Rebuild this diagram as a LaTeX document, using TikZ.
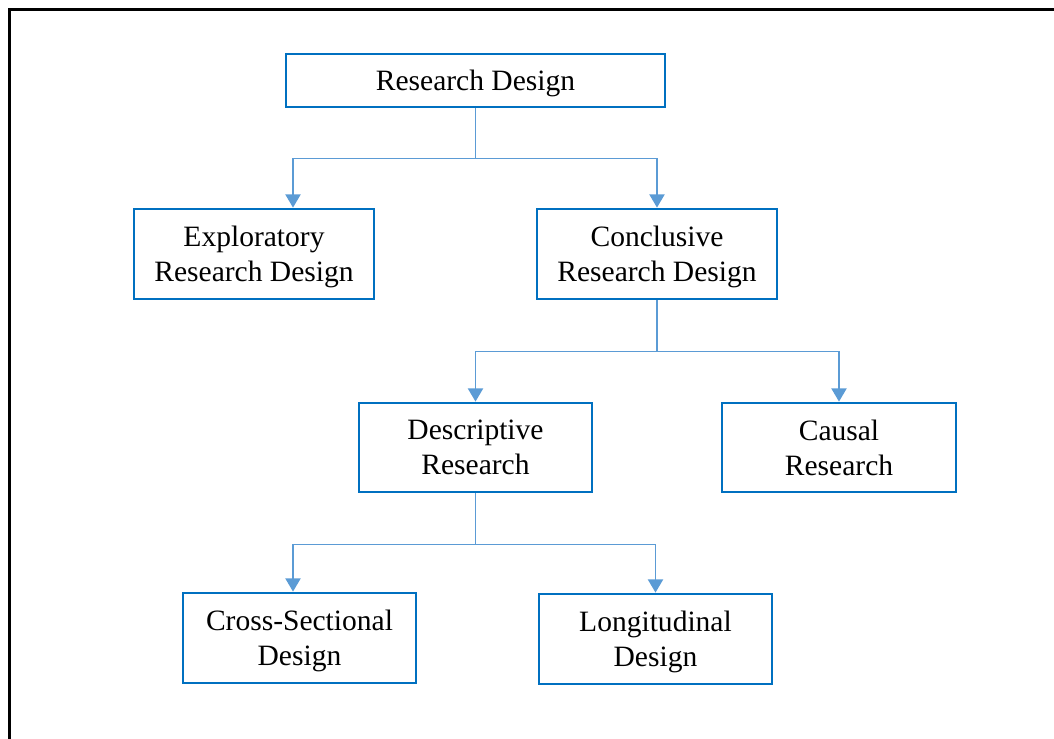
\documentclass[tikz,border=0pt]{standalone}
\usepackage{fontspec}
\setmainfont{Liberation Serif}
\usetikzlibrary{arrows.meta,calc}
\definecolor{boxblue}{HTML}{0070C0}
\definecolor{linkblue}{HTML}{5B9BD5}

\begin{document}
\begin{tikzpicture}[x=0.025cm,y=-0.025cm,
    box/.style={draw=boxblue,line width=2pt,fill=white,align=center,
        font=\fontsize{21}{25}\selectfont,inner sep=0pt,text depth=0pt},
    link/.style={draw=linkblue,line width=1pt},
    arr/.style={link,-{Triangle[width=0.38cm,length=0.33cm]}}]
    % Page frame
    \useasboundingbox (0,0) rectangle (1054,738);
    \draw[line width=2.8pt] (9.5,760) -- (9.5,9.5) -- (1070,9.5);

    % Top box
    \node[box,minimum width=9.475cm,minimum height=1.325cm] (rd) at (475.5,80.5) {Research Design};

    % Second level
    \node[box,minimum width=6cm,minimum height=2.25cm] (exp) at (254,254) {Exploratory\\Research Design};
    \node[box,minimum width=6cm,minimum height=2.25cm] (con) at (657,254) {Conclusive\\Research Design};

    % Third level
    \node[box,minimum width=5.825cm,minimum height=2.225cm] (desc) at (475.5,447.5) {Descriptive\\Research};
    \node[box,minimum width=5.85cm,minimum height=2.225cm] (cau) at (839,447.5) {Causal\\Research};

    % Fourth level
    \node[box,minimum width=5.825cm,minimum height=2.25cm] (cross) at (299.5,638) {Cross-Sectional\\Design};
    \node[box,minimum width=5.825cm,minimum height=2.25cm] (longi) at (655.5,639) {Longitudinal\\Design};

    % Connectors
    \draw[link] (rd.south) -- ++(0,50) coordinate (j1);
    \draw[arr] (j1) -| ($(exp.north)+(39,0)$);
    \draw[arr] (j1) -| (con.north);

    \draw[link] (con.south) -- ++(0,51) coordinate (j2);
    \draw[arr] (j2) -| (desc.north);
    \draw[arr] (j2) -| (cau.north);

    \draw[link] (desc.south) -- ++(0,51) coordinate (j3);
    \draw[arr] (j3) -| ($(cross.north)+(-6.5,0)$);
    \draw[arr] (j3) -| (longi.north);
\end{tikzpicture}
\end{document}
